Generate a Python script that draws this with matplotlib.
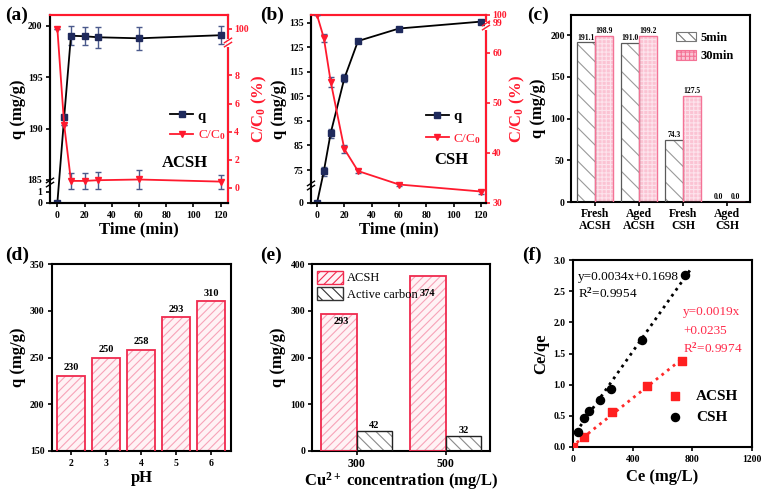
import numpy as np
import matplotlib
matplotlib.use("Agg")
import matplotlib.pyplot as plt
from matplotlib.lines import Line2D
from matplotlib.patches import Patch

plt.rcParams['font.family'] = ['Liberation Serif', 'DejaVu Serif']
plt.rcParams['font.weight'] = 'bold'
plt.rcParams['axes.labelweight'] = 'bold'
plt.rcParams['hatch.linewidth'] = 0.8
plt.rcParams['axes.linewidth'] = 1.5
plt.rcParams['mathtext.fontset'] = 'custom'
plt.rcParams['mathtext.rm'] = 'Liberation Serif'
plt.rcParams['mathtext.it'] = 'Liberation Serif:italic'
plt.rcParams['mathtext.bf'] = 'Liberation Serif:bold'

# ---------------- data ----------------
time_min = [0, 5, 10, 20, 30, 60, 120]
a_q = [0, 191.1, 199.05, 199.0, 198.9, 198.8, 199.1]
a_q_err = [0, 0, 0.9, 0.9, 1.0, 1.1, 0.9]
a_c = [100, 4.5, 0.5, 0.5, 0.55, 0.6, 0.45]
a_c_err = [0, 0, 0.55, 0.55, 0.6, 0.65, 0.5]

b_q = [0, 74.5, 90.0, 112.3, 127.5, 132.6, 135.4]
b_q_err = [0, 1.8, 1.8, 1.6, 0.6, 0.6, 0.6]
b_c = [100, 63.0, 54.3, 40.8, 36.4, 33.7, 32.3]
b_c_err = [0, 0.8, 1.0, 0.8, 0.4, 0.4, 0.4]

c_groups = ['Fresh\nACSH', 'Aged\nACSH', 'Fresh\nCSH', 'Aged\nCSH']
c_5min = [191.1, 191.0, 74.3, 0.0]
c_30min = [198.9, 199.2, 127.5, 0.0]

d_ph = [2, 3, 4, 5, 6]
d_q = [230, 250, 258, 293, 310]

e_conc = ['300', '500']
e_acsh = [293, 374]
e_ac = [42, 32]

f_csh_ce = [33, 72, 107, 179, 257, 462, 753]
f_csh_y = [0.24, 0.46, 0.58, 0.76, 0.93, 1.72, 2.76]
f_acsh_ce = [3, 72, 261, 496, 731]
f_acsh_y = [0.0, 0.16, 0.56, 0.985, 1.38]
f_csh_fit = (0.0034, 0.1698)
f_acsh_fit = (0.0019, 0.0235)

# ---------------- helpers ----------------
W, H = 763, 491
fig = plt.figure(figsize=(W / 100, H / 100), dpi=100)

def add_ax(l, t, r, b):
    return fig.add_axes([l / W, 1 - b / H, (r - l) / W, (b - t) / H])

def piecewise(vals, pos):
    vals = np.asarray(vals, float)
    pos = np.asarray(pos, float)
    def make(xs, ys):
        def f(x):
            x = np.asarray(x, float)
            y = np.interp(x, xs, ys)
            s0 = (ys[1] - ys[0]) / (xs[1] - xs[0])
            s1 = (ys[-1] - ys[-2]) / (xs[-1] - xs[-2])
            y = np.where(x < xs[0], ys[0] + (x - xs[0]) * s0, y)
            y = np.where(x > xs[-1], ys[-1] + (x - xs[-1]) * s1, y)
            return y
        return f
    return make(vals, pos), make(pos, vals)

def break_mark(ax, xfrac, yfrac, color):
    tr = ax.transAxes
    ax.plot([xfrac, xfrac], [yfrac - 0.012, yfrac + 0.012], color='white', lw=2.2,
            transform=tr, clip_on=False, zorder=10)
    for dy in (-0.011, 0.011):
        ax.plot([xfrac - 0.02, xfrac + 0.02], [yfrac + dy - 0.012, yfrac + dy + 0.012],
                color=color, lw=1.0, transform=tr, clip_on=False, zorder=11)

TICK = 7
LAB = 12
RED = '#ff1a2e'
NAVY = '#1f2a5c'

def style(ax, pad=2.5):
    ax.tick_params(direction='out', length=3, width=1.2, labelsize=TICK, pad=pad)
    for lbl in ax.get_xticklabels() + ax.get_yticklabels():
        lbl.set_fontweight('bold')

def bars(ax, x, h, w, face, hatchcol, edge, hatch, lw=1.2):
    ax.bar(x, h, w, color=face, edgecolor=hatchcol, hatch=hatch, linewidth=0, zorder=2)
    ax.bar(x, h, w, color='none', edgecolor=edge, linewidth=lw, zorder=3)

CLAB = r'C/C$_\mathbf{0}$ (%)'

# ---------------- (a) ----------------
ax = add_ax(50, 15, 228, 203)
ax2 = ax.twinx()
f1, i1 = piecewise([0, 1.8, 184.8, 201.07], [0, 20, 21, 188])
ax.set_yscale('function', functions=(f1, i1))
ax.set_ylim(0, 201.07)
ax.set_yticks([0, 1, 185, 190, 195, 200])
ax.set_yticklabels(['0', '1', '185', '190', '195', '200'])
f2, i2 = piecewise([-1.07, 10.3, 99.0, 101.0], [0, 160, 161, 188])
ax2.set_yscale('function', functions=(f2, i2))
ax2.set_ylim(-1.07, 101.0)
ax2.set_yticks([0, 2, 4, 6, 8, 100])
ax.set_xlim(-5.4, 125.4)
ax.set_xticks([0, 20, 40, 60, 80, 100, 120])
ax.errorbar(time_min, a_q, yerr=a_q_err, color='black', ecolor='#4b5a8c', elinewidth=1,
            capsize=2, marker='s', ms=4, mfc=NAVY, mec=NAVY, lw=1.3, zorder=4)
ax2.errorbar(time_min, a_c, yerr=a_c_err, color=RED, ecolor='#4b5a8c', elinewidth=1,
             capsize=2, marker='v', ms=4.5, mfc=RED, mec=RED, lw=1.3, zorder=4)
ax.set_ylabel('q (mg/g)', fontsize=LAB, labelpad=1)
ax.set_xlabel('Time (min)', fontsize=LAB, labelpad=1)
ax2.set_ylabel(CLAB, fontsize=LAB, color=RED, labelpad=1)
style(ax); style(ax2, pad=1.5)
ax2.tick_params(axis='y', colors=RED)
ax2.spines['right'].set_color(RED)
ax2.spines['top'].set_color(RED)
ax.spines['top'].set_color(RED)
break_mark(ax, 0, 20.5 / 188, 'black')
break_mark(ax2, 1, 160.5 / 188, RED)
h = [Line2D([], [], color='black', marker='s', ms=4, mfc=NAVY, mec=NAVY, lw=1.3),
     Line2D([], [], color=RED, marker='v', ms=4.5, lw=1.3)]
leg = ax.legend(h, ['q', r'C/C$_0$'], loc='center left', bbox_to_anchor=(0.6, 0.41),
                frameon=False, handlelength=1.6, handletextpad=0.3, labelspacing=0.4,
                prop={'size': 10.5, 'weight': 'bold'})
leg.get_texts()[1].set_color(RED)
leg.get_texts()[1].set_fontweight('normal')
leg.get_texts()[1].set_fontsize(9.5)
ax.text(0.76, 0.213, 'ACSH', transform=ax.transAxes, ha='center', va='center',
        fontsize=12, fontweight='bold')
fig.text(5 / W, 1 - 15 / H, '(a)', fontsize=14, fontweight='bold', va='center')

# ---------------- (b) ----------------
ax = add_ax(311, 15, 486, 203)
ax2 = ax.twinx()
f1, i1 = piecewise([0, 5, 68.9, 138.1], [0, 17, 18, 188])
ax.set_yscale('function', functions=(f1, i1))
ax.set_ylim(0, 138.1)
ax.set_yticks([0, 75, 85, 95, 105, 115, 125, 135])
ax.set_yticklabels(['0', '75', '85', '95', '105', '115', '125', '135'])
f2, i2 = piecewise([30, 65.4, 98.7, 100], [0, 177, 178, 188])
ax2.set_yscale('function', functions=(f2, i2))
ax2.set_ylim(30, 100)
ax2.set_yticks([30, 40, 50, 60, 99, 100])
ax2.set_yticklabels(['30', '40', '50', '60', '99', '100'])
ax.set_xlim(-4.4, 123.7)
ax.set_xticks([0, 20, 40, 60, 80, 100, 120])
ax.errorbar(time_min, b_q, yerr=b_q_err, color='black', ecolor='#4b5a8c', elinewidth=1,
            capsize=2, marker='s', ms=4, mfc=NAVY, mec=NAVY, lw=1.3, zorder=4)
ax2.errorbar(time_min, b_c, yerr=b_c_err, color=RED, ecolor='#4b5a8c', elinewidth=1,
             capsize=2, marker='v', ms=4.5, mfc=RED, mec=RED, lw=1.3, zorder=4)
ax.set_ylabel('q (mg/g)', fontsize=LAB, labelpad=1)
ax.set_xlabel('Time (min)', fontsize=LAB, labelpad=1)
ax2.set_ylabel(CLAB, fontsize=LAB, color=RED, labelpad=1)
style(ax); style(ax2, pad=1.5)
ax2.tick_params(axis='y', colors=RED)
ax2.spines['right'].set_color(RED)
ax2.spines['top'].set_color(RED)
ax.spines['top'].set_color(RED)
break_mark(ax, 0, 17.5 / 188, 'black')
break_mark(ax2, 1, 177.5 / 188, RED)
h = [Line2D([], [], color='black', marker='s', ms=4, mfc=NAVY, mec=NAVY, lw=1.3),
     Line2D([], [], color=RED, marker='v', ms=4.5, lw=1.3)]
leg = ax.legend(h, ['q', r'C/C$_0$'], loc='center left', bbox_to_anchor=(0.58, 0.40),
                frameon=False, handlelength=1.6, handletextpad=0.3, labelspacing=0.6,
                prop={'size': 10.5, 'weight': 'bold'})
leg.get_texts()[1].set_color(RED)
leg.get_texts()[1].set_fontweight('normal')
leg.get_texts()[1].set_fontsize(9.5)
ax.text(0.8, 0.229, 'CSH', transform=ax.transAxes, ha='center', va='center',
        fontsize=12, fontweight='bold')
fig.text(260 / W, 1 - 15 / H, '(b)', fontsize=14, fontweight='bold', va='center')

# ---------------- (c) ----------------
ax = add_ax(571, 15, 750, 202)
xc = np.arange(len(c_groups))
bw = 0.4
bars(ax, xc - bw / 2, c_5min, bw, 'white', '#9a9a9a', '#5a5a5a', '\\\\', lw=0.9)
bars(ax, xc + bw / 2, c_30min, bw, '#fbc3d3', '#fde3ec', '#f47396', '++++', lw=1.0)
for x, v in zip(xc - bw / 2, c_5min):
    ax.text(x, v + 1, f'{v:.1f}', ha='center', va='bottom', fontsize=5.5, fontweight='bold')
for x, v in zip(xc + bw / 2, c_30min):
    ax.text(x, v + 1, f'{v:.1f}', ha='center', va='bottom', fontsize=5.5, fontweight='bold')
ax.set_xlim(-0.545, 3.52)
ax.set_ylim(0, 224)
ax.set_yticks([0, 50, 100, 150, 200])
ax.set_xticks(xc)
ax.set_xticklabels(c_groups, linespacing=1.0)
ax.set_ylabel('q (mg/g)', fontsize=LAB, labelpad=3)
style(ax, pad=1.5)
for lbl in ax.get_xticklabels():
    lbl.set_fontsize(8.5)
hc = [Patch(facecolor='white', edgecolor='#777777', hatch='\\\\\\', lw=0.8),
      Patch(facecolor='#fbc3d3', edgecolor='#f47396', hatch='++++', lw=0.8)]
ax.legend(hc, ['5min', '30min'], loc='upper right', bbox_to_anchor=(0.97, 0.97),
          frameon=False, handlelength=1.6, handleheight=0.8, handletextpad=0.3,
          prop={'size': 9, 'weight': 'bold'})
fig.text(527 / W, 1 - 15 / H, '(c)', fontsize=14, fontweight='bold', va='center')

# ---------------- (d) ----------------
ax = add_ax(52, 264, 231, 451)
bars(ax, d_ph, d_q, 0.82, '#fff2f5', '#f7a3b8', '#f02a4e', '////', lw=1.3)
for x, v in zip(d_ph, d_q):
    ax.text(x, v + 4, f'{v}', ha='center', va='bottom', fontsize=7.5, fontweight='bold')
ax.set_xlim(1.46, 6.57)
ax.set_ylim(150, 350)
ax.set_yticks([150, 200, 250, 300, 350])
ax.set_xticks(d_ph)
ax.set_xlabel('pH', fontsize=LAB, labelpad=2)
ax.set_ylabel('q (mg/g)', fontsize=LAB, labelpad=3)
style(ax)
fig.text(5 / W, 1 - 255 / H, '(d)', fontsize=14, fontweight='bold', va='center')

# ---------------- (e) ----------------
ax = add_ax(312, 264, 490, 451)
xe = np.arange(len(e_conc))
bars(ax, xe - 0.2, e_acsh, 0.4, '#fff2f5', '#f7a3b8', '#f02a4e', '////', lw=1.3)
bars(ax, xe + 0.2, e_ac, 0.4, 'white', '#8a8a8a', '#222222', '\\\\\\', lw=1.0)
ax.text(xe[0] - 0.17, e_acsh[0] - 6, f'{e_acsh[0]}', ha='center', va='top', fontsize=7.5, fontweight='bold')
ax.text(xe[1] - 0.2, e_acsh[1] - 28, f'{e_acsh[1]}', ha='center', va='top', fontsize=7.5, fontweight='bold')
for x, v in zip(xe + 0.2, e_ac):
    ax.text(x, v + 3, f'{v}', ha='center', va='bottom', fontsize=7.5, fontweight='bold')
ax.set_xlim(-0.5, 1.5)
ax.set_ylim(0, 400)
ax.set_yticks([0, 100, 200, 300, 400])
ax.set_xticks(xe)
ax.set_xticklabels(e_conc)
ax.set_xlabel(r'Cu$^{\mathbf{2+}}$ concentration (mg/L)', fontsize=LAB, labelpad=0)
ax.set_ylabel('q (mg/g)', fontsize=LAB, labelpad=3)
style(ax, pad=2)
for lbl in ax.get_xticklabels():
    lbl.set_fontsize(8.5)
he = [Patch(facecolor='#fff2f5', edgecolor='#f02a4e', hatch='////', lw=1.0),
      Patch(facecolor='white', edgecolor='#333333', hatch='\\\\\\', lw=1.0)]
ax.legend(he, ['ACSH', 'Active carbon'], loc='upper left', bbox_to_anchor=(0.0, 0.99),
          frameon=False, handlelength=2.1, handleheight=1.2, handletextpad=0.3,
          labelspacing=0.2, borderaxespad=0.2, borderpad=0.2,
          prop={'size': 9, 'weight': 'normal'})
fig.text(260 / W, 1 - 255 / H, '(e)', fontsize=14, fontweight='bold', va='center')

# ---------------- (f) ----------------
ax = add_ax(573, 260, 752, 447)
xb = np.linspace(20, 790, 50)
xr = np.linspace(25, 745, 50)
ax.plot(xb, f_csh_fit[0] * xb + f_csh_fit[1], ls=(0, (1, 1.6)), color='black', lw=2)
ax.plot(xr, f_acsh_fit[0] * xr + f_acsh_fit[1], ls=(0, (1, 1.6)), color='#ff2a2a', lw=2)
ax.scatter(f_acsh_ce, f_acsh_y, marker='s', s=30, color='#ff2020', zorder=5, label='ACSH')
ax.scatter(f_csh_ce, f_csh_y, marker='o', s=34, color='black', zorder=5, label='CSH')
ax.set_xlim(0, 1200)
ax.set_ylim(0, 3.0)
ax.set_xticks([0, 400, 800, 1200])
ax.set_yticks(np.arange(0, 3.01, 0.5))
ax.yaxis.set_major_formatter(matplotlib.ticker.FormatStrFormatter('%.1f'))
ax.set_xlabel('Ce (mg/L)', fontsize=LAB, labelpad=4)
ax.set_ylabel('Ce/qe', fontsize=LAB, labelpad=3)
style(ax)
ax.text(0.03, 0.91, 'y=0.0034x+0.1698', transform=ax.transAxes, fontsize=9.5,
        fontweight='normal', va='center')
ax.text(0.03, 0.82, 'R$^2$=0.9954', transform=ax.transAxes, fontsize=9.5,
        fontweight='normal', va='center')
ax.text(0.615, 0.72, 'y=0.0019x', transform=ax.transAxes, fontsize=9.5,
        fontweight='normal', va='center', color='#ff2a4a')
ax.text(0.615, 0.62, '+0.0235', transform=ax.transAxes, fontsize=9.5,
        fontweight='normal', va='center', color='#ff2a4a')
ax.text(0.615, 0.53, 'R$^2$=0.9974', transform=ax.transAxes, fontsize=9.5,
        fontweight='normal', va='center', color='#ff2a4a')
ax.legend(loc='lower right', bbox_to_anchor=(1.0, 0.05), frameon=False,
          handletextpad=0.4, labelspacing=0.5, prop={'size': 11, 'weight': 'bold'})
fig.text(522 / W, 1 - 255 / H, '(f)', fontsize=14, fontweight='bold', va='center')

fig.savefig('out.png', dpi=100)
